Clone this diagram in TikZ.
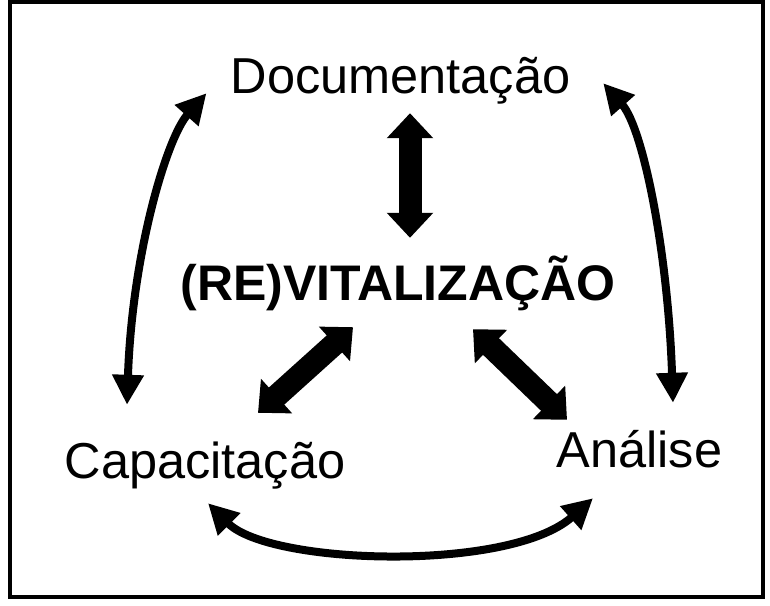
\documentclass[tikz,border=0pt]{standalone}
\usepackage{fontspec}
\setmainfont{Liberation Sans}
\usetikzlibrary{arrows.meta}
\usetikzlibrary{calc}

\begin{document}
\begin{tikzpicture}[x=1pt,y=-1pt,
	label node/.style={inner sep=0pt,text height=36pt,text depth=0pt,anchor=base,font=\fontsize{50.5}{60}\selectfont},
	center node/.style={label node,font=\fontsize{50}{60}\selectfont\bfseries},
	block arrow/.style={line width=23pt,{Triangle[length=25pt,width=45pt]}-{Triangle[length=25pt,width=45pt]}},
	curve arrow/.style={line width=8pt,{Triangle[length=30pt,width=30pt]}-{Triangle[length=30pt,width=30pt]}}]

	\useasboundingbox (0,0) rectangle (770,605);
	\draw[line width=4pt] (10.3,1.8) rectangle (763,597);

	\node[label node] (doc) at (400.5,93) {Documentação};
	\node[center node] (rev) at (398,300) {(RE)VITALIZAÇÃO};
	\node[label node] (cap) at (205,478) {Capacitação};
	\node[label node] (ana) at (639.5,467) {Análise};

	\draw[block arrow] ($(doc.south)+(9.5,20)$) -- ($(rev.north)+(12,-26)$);
	\draw[block arrow] ($(rev.south)+(-45,27)$) -- ($(cap.north)+(53,-29)$);
	\draw[block arrow] ($(rev.south)+(75,29)$) -- ($(ana.north)+(-72.5,-11)$);

	\draw[curve arrow] ($(cap.north)+(-78,-37)$) .. controls +(5,-150) and +(-40,45) .. ($(doc.south west)+(-24,0)$);
	\draw[curve arrow] ($(ana.north)+(33.5,-28)$) .. controls +(-5,-150) and +(40,45) .. ($(doc.south east)+(32.7,-10)$);
	\draw[curve arrow] ($(cap.south)+(3,25)$) .. controls +(62,62) and +(-83,74) .. ($(ana.south)+(-46.5,31)$);

\end{tikzpicture}
\end{document}
